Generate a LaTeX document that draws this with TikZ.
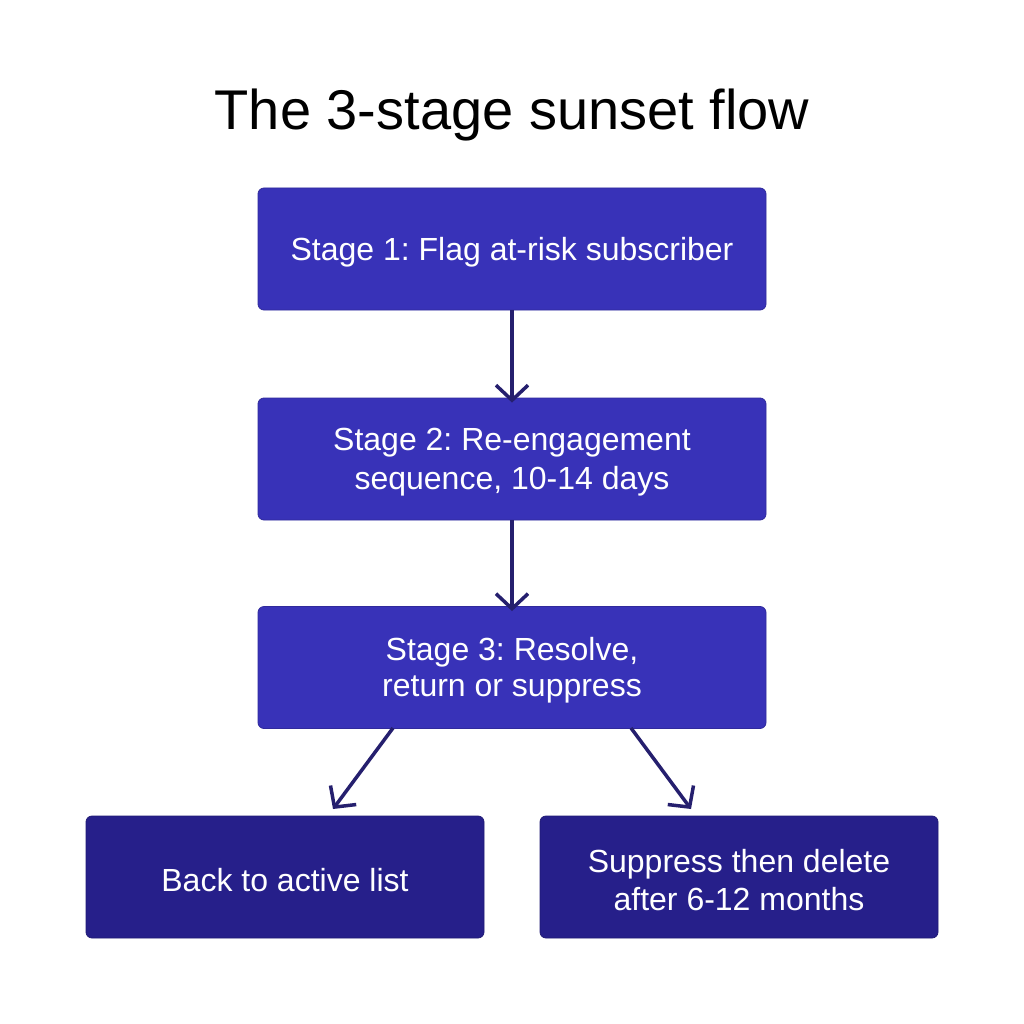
\documentclass[tikz,border=0pt]{standalone}
\usepackage{fontspec}
\setmainfont{Liberation Sans}
\usetikzlibrary{arrows.meta}
\definecolor{boxA}{HTML}{3832B8}
\definecolor{boxB}{HTML}{261F8A}
\definecolor{arrowc}{HTML}{251F6E}
\newcommand{\lowtext}[1]{\raisebox{-3pt}[\height][\depth]{#1}}
\tikzset{
  stagebox/.style={fill=boxA, draw=boxA!85!black, line width=0.8pt, rounded corners=6pt,
    minimum width=508pt, minimum height=122pt, text=white, align=center,
    font=\fontsize{32}{39}\selectfont, inner sep=0pt},
  endbox/.style={stagebox, fill=boxB, draw=boxB!85!black, minimum width=398pt},
  conn/.style={draw=arrowc, line width=3.5pt, -{Straight Barb[length=15pt,width=32pt,line width=3.5pt]}},
}
\begin{document}
\frenchspacing
\begin{tikzpicture}[x=1pt,y=-1pt]
\useasboundingbox[fill=white] (0,0) rectangle (1024,1024);
\node[font=\fontsize{56}{60}\selectfont, anchor=base] (title) at (512,130) {The 3-stage sunset flow};
\node[stagebox] (s1) at (512,249) {\lowtext{Stage 1: Flag at-risk subscriber}};
\node[stagebox] (s2) at (512,459) {\lowtext{\shortstack{Stage 2: Re-engagement\\[6pt]sequence, 10-14 days}}};
\node[stagebox] (s3) at (512,667.5) {\lowtext{\shortstack{Stage 3: Resolve,\\[6pt]return or suppress}}};
\node[endbox] (b4) at (285,877) {\lowtext{Back to active list}};
\node[endbox] (b5) at (739,877) {\lowtext{\shortstack{Suppress then delete\\[6pt]after 6-12 months}}};
\draw[conn] (s1.south) -- ([yshift=-5pt]s2.north);
\draw[conn] (s2.south) -- ([yshift=-5pt]s3.north);
\coordinate (l0) at (393,728);
\coordinate (l1) at (333,809);
\coordinate (r0) at (631,728);
\coordinate (r1) at (691,809);
\draw[conn] (l0) -- (l1);
\draw[conn] (r0) -- (r1);
\end{tikzpicture}
\end{document}
